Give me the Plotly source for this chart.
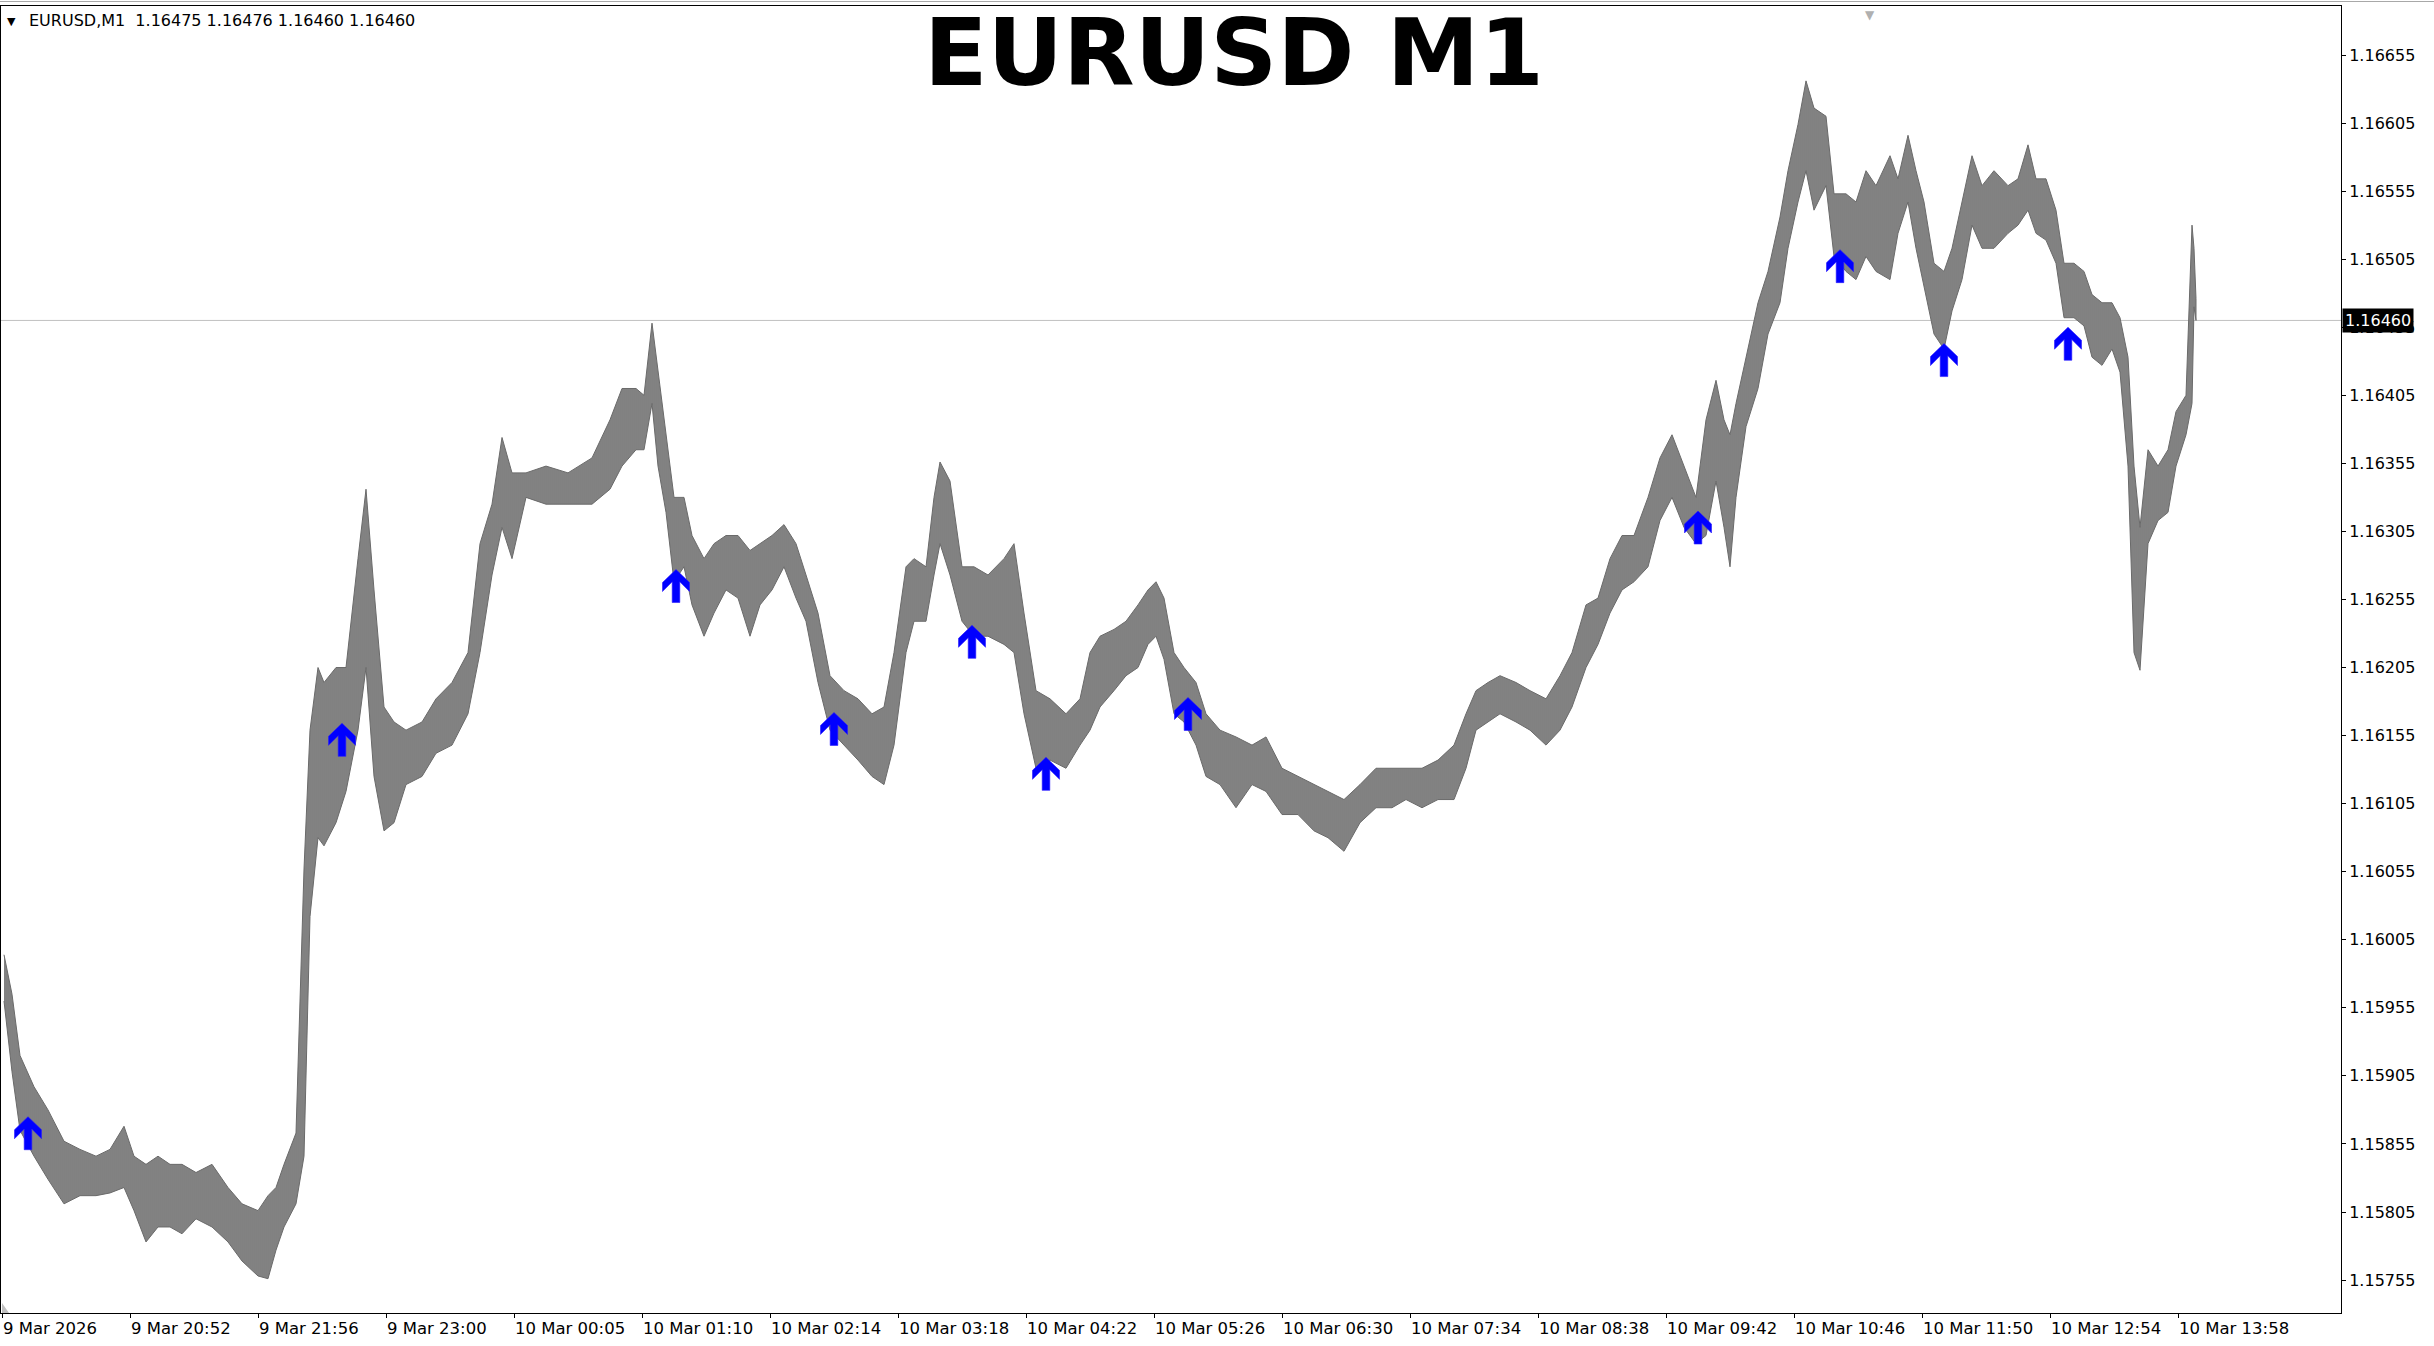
import plotly.graph_objects as go

# ---- data (bar index = minutes since 9 Mar 19:48) ----
bar_index = [1, 5, 9, 16, 23, 31, 39, 47, 54, 61, 66, 72, 78, 84, 90, 97, 105, 113, 120, 128,
             133, 137, 141, 147, 151, 154, 158, 161, 167, 172, 178, 182, 186, 191, 196, 202, 210, 217, 225, 233,
             239, 245, 250, 255, 262, 272, 283, 295, 304, 310, 317, 321, 325, 328, 332, 336, 341, 345, 351, 356,
             362, 368, 374, 379, 385, 391, 397, 402, 408, 414, 421, 428, 435, 441, 446, 452, 456, 462, 466, 469,
             474, 480, 486, 493, 501, 506, 511, 517, 524, 532, 539, 544, 549, 556, 562, 568, 573, 577, 581, 586,
             591, 597, 602, 609, 617, 625, 632, 640, 648, 656, 663, 671, 679, 687, 695, 702, 710, 718, 726, 732,
             737, 743, 749, 757, 764, 772, 779, 785, 792, 798, 804, 810, 816, 823, 829, 835, 841, 847, 852, 857,
             861, 864, 867, 872, 878, 883, 889, 893, 898, 902, 906, 912, 916, 922, 927, 932, 937, 944, 948, 953,
             957, 961, 966, 971, 975, 980, 985, 990, 996, 1003, 1008, 1013, 1017, 1022, 1027, 1031, 1036, 1041, 1045, 1050,
             1055, 1059, 1063, 1066, 1069, 1073, 1078, 1083, 1087, 1092, 1095, 1096, 1097]
bar_high = [1.15994, 1.15965, 1.15920, 1.15897, 1.15880, 1.15857, 1.15851, 1.15846, 1.15851, 1.15868,
            1.15846, 1.15840, 1.15846, 1.15840, 1.15840, 1.15834, 1.15840, 1.15823, 1.15811, 1.15806,
            1.15817, 1.15823, 1.15840, 1.15863, 1.16057, 1.16159, 1.16205, 1.16194, 1.16205, 1.16205,
            1.16285, 1.16336, 1.16262, 1.16176, 1.16165, 1.16159, 1.16165, 1.16182, 1.16194, 1.16216,
            1.16296, 1.16325, 1.16374, 1.16348, 1.16348, 1.16353, 1.16348, 1.16359, 1.16387, 1.16410,
            1.16410, 1.16405, 1.16458, 1.16422, 1.16376, 1.16330, 1.16330, 1.16302, 1.16285, 1.16296,
            1.16302, 1.16302, 1.16291, 1.16296, 1.16302, 1.16310, 1.16296, 1.16273, 1.16245, 1.16199,
            1.16188, 1.16182, 1.16171, 1.16176, 1.16216, 1.16279, 1.16285, 1.16279, 1.16330, 1.16356,
            1.16342, 1.16279, 1.16279, 1.16273, 1.16285, 1.16296, 1.16245, 1.16188, 1.16182, 1.16171,
            1.16182, 1.16216, 1.16228, 1.16233, 1.16239, 1.16251, 1.16262, 1.16268, 1.16256, 1.16216,
            1.16205, 1.16194, 1.16171, 1.16159, 1.16154, 1.16148, 1.16154, 1.16131, 1.16125, 1.16119,
            1.16114, 1.16108, 1.16119, 1.16131, 1.16131, 1.16131, 1.16131, 1.16137, 1.16148, 1.16171,
            1.16188, 1.16194, 1.16199, 1.16194, 1.16188, 1.16182, 1.16199, 1.16216, 1.16251, 1.16256,
            1.16285, 1.16302, 1.16302, 1.16330, 1.16359, 1.16376, 1.16353, 1.16330, 1.16387, 1.16416,
            1.16387, 1.16376, 1.16399, 1.16433, 1.16473, 1.16496, 1.16536, 1.16570, 1.16604, 1.16636,
            1.16616, 1.16610, 1.16553, 1.16553, 1.16547, 1.16570, 1.16559, 1.16581, 1.16564, 1.16596,
            1.16570, 1.16547, 1.16502, 1.16496, 1.16513, 1.16547, 1.16581, 1.16559, 1.16570, 1.16559,
            1.16564, 1.16589, 1.16564, 1.16564, 1.16541, 1.16502, 1.16502, 1.16496, 1.16479, 1.16473,
            1.16473, 1.16462, 1.16433, 1.16353, 1.16308, 1.16365, 1.16353, 1.16365, 1.16393, 1.16405,
            1.16530, 1.16513, 1.16476]
bar_low = [1.15960, 1.15908, 1.15865, 1.15846, 1.15829, 1.15811, 1.15817, 1.15817, 1.15819, 1.15823,
           1.15806, 1.15783, 1.15794, 1.15794, 1.15789, 1.15800, 1.15794, 1.15783, 1.15769, 1.15758,
           1.15756, 1.15777, 1.15794, 1.15811, 1.15846, 1.16022, 1.16080, 1.16074, 1.16091, 1.16114,
           1.16159, 1.16205, 1.16125, 1.16085, 1.16091, 1.16119, 1.16125, 1.16142, 1.16148, 1.16171,
           1.16216, 1.16273, 1.16308, 1.16285, 1.16330, 1.16325, 1.16325, 1.16325, 1.16336, 1.16353,
           1.16365, 1.16365, 1.16399, 1.16353, 1.16319, 1.16268, 1.16279, 1.16251, 1.16228, 1.16245,
           1.16262, 1.16256, 1.16228, 1.16251, 1.16262, 1.16279, 1.16256, 1.16239, 1.16194, 1.16159,
           1.16148, 1.16137, 1.16125, 1.16119, 1.16148, 1.16216, 1.16239, 1.16239, 1.16273, 1.16296,
           1.16273, 1.16239, 1.16228, 1.16228, 1.16222, 1.16216, 1.16171, 1.16131, 1.16137, 1.16131,
           1.16148, 1.16159, 1.16176, 1.16188, 1.16199, 1.16205, 1.16222, 1.16228, 1.16211, 1.16171,
           1.16165, 1.16148, 1.16125, 1.16119, 1.16102, 1.16119, 1.16114, 1.16097, 1.16097, 1.16085,
           1.16080, 1.16070, 1.16091, 1.16102, 1.16102, 1.16108, 1.16102, 1.16108, 1.16108, 1.16131,
           1.16159, 1.16165, 1.16171, 1.16165, 1.16159, 1.16148, 1.16159, 1.16176, 1.16205, 1.16222,
           1.16245, 1.16262, 1.16268, 1.16279, 1.16313, 1.16330, 1.16308, 1.16296, 1.16302, 1.16342,
           1.16308, 1.16279, 1.16330, 1.16382, 1.16410, 1.16450, 1.16473, 1.16513, 1.16547, 1.16570,
           1.16541, 1.16559, 1.16507, 1.16496, 1.16490, 1.16507, 1.16496, 1.16490, 1.16524, 1.16547,
           1.16513, 1.16484, 1.16450, 1.16439, 1.16467, 1.16490, 1.16530, 1.16513, 1.16513, 1.16524,
           1.16530, 1.16541, 1.16524, 1.16519, 1.16502, 1.16462, 1.16462, 1.16456, 1.16433, 1.16427,
           1.16439, 1.16422, 1.16353, 1.16216, 1.16203, 1.16296, 1.16313, 1.16319, 1.16353, 1.16376,
           1.16399, 1.16470, 1.16460]

last_open, last_high, last_low, last_close = 1.16475, 1.16476, 1.16460, 1.16460

arrow_index = [13, 170, 337, 416, 485, 522, 593, 848, 919, 971, 1033]
arrow_price = [1.15875, 1.16164, 1.16277, 1.16172, 1.16236, 1.16139, 1.16183, 1.16320, 1.16512, 1.16443, 1.16455]

time_tick_index = [0, 64, 128, 192, 256, 320, 384, 448, 512, 576, 640, 704, 768, 832, 896, 960, 1024, 1088]
time_tick_text = ["9 Mar 2026", "9 Mar 20:52", "9 Mar 21:56", "9 Mar 23:00", "10 Mar 00:05", "10 Mar 01:10",
                  "10 Mar 02:14", "10 Mar 03:18", "10 Mar 04:22", "10 Mar 05:26", "10 Mar 06:30", "10 Mar 07:34",
                  "10 Mar 08:38", "10 Mar 09:42", "10 Mar 10:46", "10 Mar 11:50", "10 Mar 12:54", "10 Mar 13:58"]
price_ticks = [1.15755, 1.15805, 1.15855, 1.15905, 1.15955, 1.16005, 1.16055, 1.16105, 1.16155, 1.16205,
               1.16255, 1.16305, 1.16355, 1.16405, 1.16455, 1.16505, 1.16555, 1.16605, 1.16655]

symbol = "EURUSD"
period = "M1"

FONT = "DejaVu Sans"
W, H = 2434, 1346
ML, MR, MT, MB = 1, 93, 6, 33
plot_w = W - ML - MR
plot_h = H - MT - MB

# up-arrow glyph outline (pixels relative to its tip, y up)
ARROW_PATH = ("M0,0 L13.5,-13 L13.5,-22 L3.8,-12.3 L3.8,-33 L-3.8,-33 L-3.8,-12.3 "
              "L-13.5,-22 L-13.5,-13 Z")

fig = go.Figure()
fig.add_trace(go.Scatter(
    x=bar_index + bar_index[::-1],
    y=bar_high + bar_low[::-1],
    fill="toself",
    fillcolor="#7d7d7d",
    fillpattern=dict(shape="|", size=2, solidity=0.5, fgcolor="#111111", bgcolor="#f2f2f2", fgopacity=1),
    line=dict(color="#6a6a6a", width=1),
    mode="lines",
    hoverinfo="skip",
    showlegend=False,
))

shapes = [
    dict(type="line", xref="paper", yref="y", x0=0, x1=1, y0=last_close, y1=last_close,
         line=dict(color="#c0c0c0", width=1), layer="below"),
    # window frame line at the very top
    dict(type="line", xref="paper", yref="paper", x0=-ML / plot_w, x1=(W - ML) / plot_w,
         y0=(plot_h + MT - 1.5) / plot_h, y1=(plot_h + MT - 1.5) / plot_h,
         line=dict(color="#a8a8a8", width=1)),
    # small scroll marker in the lower-left corner
    dict(type="path", xref="paper", yref="paper", xsizemode="pixel", ysizemode="pixel",
         xanchor=0, yanchor=0, path="M1,0 L1,10 L8,0 Z", fillcolor="#c0c0c0", line=dict(width=0)),
]
for xi, yp in zip(arrow_index, arrow_price):
    shapes.append(dict(
        type="path", xref="x", yref="y", xsizemode="pixel", ysizemode="pixel",
        xanchor=xi, yanchor=yp, path=ARROW_PATH,
        fillcolor="#0000ff", line=dict(color="#2a1aff", width=0.6), layer="above",
    ))

annotations = []
# title
annotations.append(dict(
    xref="paper", yref="paper", x=(1234 - ML) / plot_w, y=(MT + plot_h - 53) / plot_h,
    xanchor="center", yanchor="middle", showarrow=False,
    text="<b>%s %s</b>" % (symbol, period),
    font=dict(family=FONT, size=93, color="black"),
))
# header line
annotations.append(dict(
    xref="paper", yref="paper", x=(27 - ML) / plot_w, y=(MT + plot_h - 20) / plot_h,
    xanchor="left", yanchor="middle", showarrow=False,
    text="%s,%s\u00a0\u00a0%.5f %.5f %.5f %.5f" % (symbol, period, last_open, last_high, last_low, last_close),
    font=dict(family=FONT, size=16, color="black"),
))
annotations.append(dict(
    xref="paper", yref="paper", x=(11 - ML) / plot_w, y=(MT + plot_h - 21) / plot_h,
    xanchor="center", yanchor="middle", showarrow=False,
    text="\u25bc", font=dict(family=FONT, size=11, color="black"),
))
# chart shift marker
annotations.append(dict(
    xref="paper", yref="paper", x=(1870 - ML) / plot_w, y=1.0,
    xanchor="center", yanchor="top", showarrow=False,
    text="\u25bc", font=dict(family=FONT, size=12, color="#b0b0b0"),
))
# current price box
annotations.append(dict(
    xref="paper", yref="y", x=1.0, y=last_close, xanchor="left", yanchor="middle",
    xshift=1, showarrow=False, text="%.5f" % last_close,
    font=dict(family=FONT, size=16, color="white"),
    bgcolor="black", borderpad=2,
))

fig.update_layout(
    width=W, height=H,
    margin=dict(l=ML, r=MR, t=MT, b=MB, pad=0),
    paper_bgcolor="white", plot_bgcolor="white",
    showlegend=False,
    annotations=annotations,
    shapes=shapes,
    xaxis=dict(
        range=[-0.5, plot_w / 2 - 0.5], tickmode="array", tickvals=time_tick_index, ticktext=time_tick_text,
        ticks="outside", ticklen=4, tickcolor="black", showline=True, linecolor="black", linewidth=1,
        mirror=True, showgrid=False, zeroline=False, ticklabelposition="outside right",
        tickfont=dict(family=FONT, size=16.5, color="black"),
    ),
    yaxis=dict(
        side="right", range=[1.157308, 1.16691], tickmode="array", tickvals=price_ticks,
        ticktext=["%.5f" % v for v in price_ticks],
        ticks="outside", ticklen=4, tickcolor="black", showline=True, linecolor="black", linewidth=1,
        mirror=True, showgrid=False, zeroline=False,
        tickfont=dict(family=FONT, size=16, color="black"),
    ),
)

fig.write_html("out.html", config={"displayModeBar": False},
               post_script="document.body.style.margin='0';document.body.style.overflow='hidden';")
